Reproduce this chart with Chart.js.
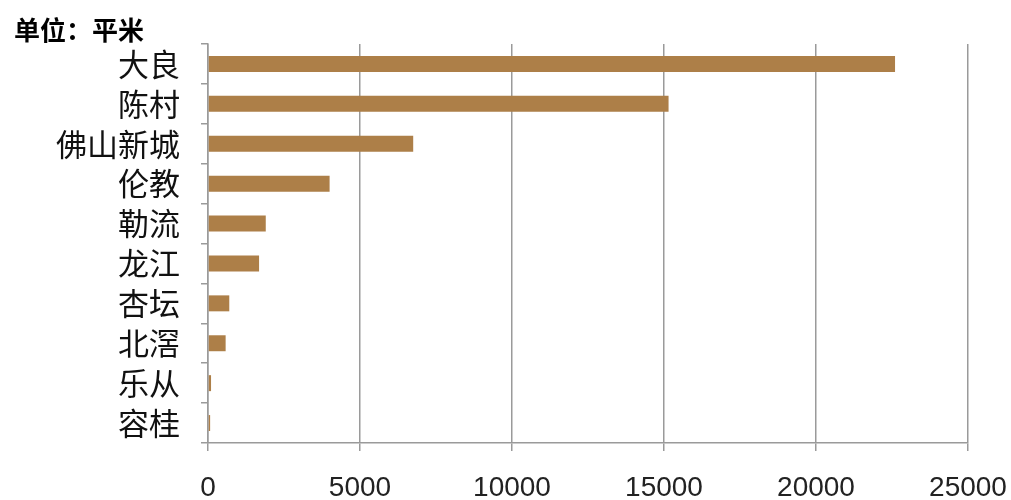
<!DOCTYPE html>
<html><head><meta charset="utf-8">
<script src="https://cdn.jsdelivr.net/npm/chart.js@4/dist/chart.umd.min.js"></script>
<style>
html,body{margin:0;padding:0;background:#fff;}
#wrap{position:relative;width:1011px;height:500px;}
#unit{position:absolute;left:14px;top:10px;line-height:1;font:bold 26px "Noto Sans CJK SC",sans-serif;color:#000;}
</style></head>
<body><div id="wrap"><canvas id="c" width="1011" height="500"></canvas><div id="unit">单位：平米</div></div>
<script>
const categories = ["大良","陈村","佛山新城","伦教","勒流","龙江","杏坛","北滘","乐从","容桂"];
const areaValues = [22600,15150,6750,4000,1900,1680,700,580,100,70];
const xTicks = [0,5000,10000,15000,20000,25000];

new Chart(document.getElementById('c'), {
  type: 'bar',
  data: { labels: categories, datasets: [{ data: areaValues, backgroundColor: '#AD7F48', borderWidth: 0, barPercentage: 0.4, categoryPercentage: 1.0 }] },
  options: {
    indexAxis: 'y', responsive: false, animation: false,
    layout: { padding: { top: 44, right: 0, bottom: 0, left: 0 } },
    plugins: { legend: { display: false }, tooltip: { enabled: false } },
    scales: {
      x: {
        min: 0, max: 25000,
        afterBuildTicks: s => { s.ticks = xTicks.map(v => ({ value: v })); },
        afterFit: s => { s.height = 57; s.paddingRight = 43; s.paddingLeft = 0; },
        grid: { color: '#9a9a9a', lineWidth: 1.5, tickLength: 8, drawTicks: true },
        border: { color: '#9a9a9a', width: 1.5 },
        ticks: { padding: 20, maxRotation: 0, autoSkip: false, color: '#222', callback: v => String(v), font: { family: '"Liberation Sans", sans-serif', size: 28 } }
      },
      y: {
        afterFit: s => { s.width = 208; },
        grid: { drawOnChartArea: false, color: '#9a9a9a', lineWidth: 1.5, tickLength: 7, offset: true },
        border: { color: '#9a9a9a', width: 1.5 },
        ticks: { padding: 21, autoSkip: false, color: '#111', font: { family: '"Noto Sans CJK SC", sans-serif', size: 31 } }
      }
    }
  }
});
</script></body></html>
